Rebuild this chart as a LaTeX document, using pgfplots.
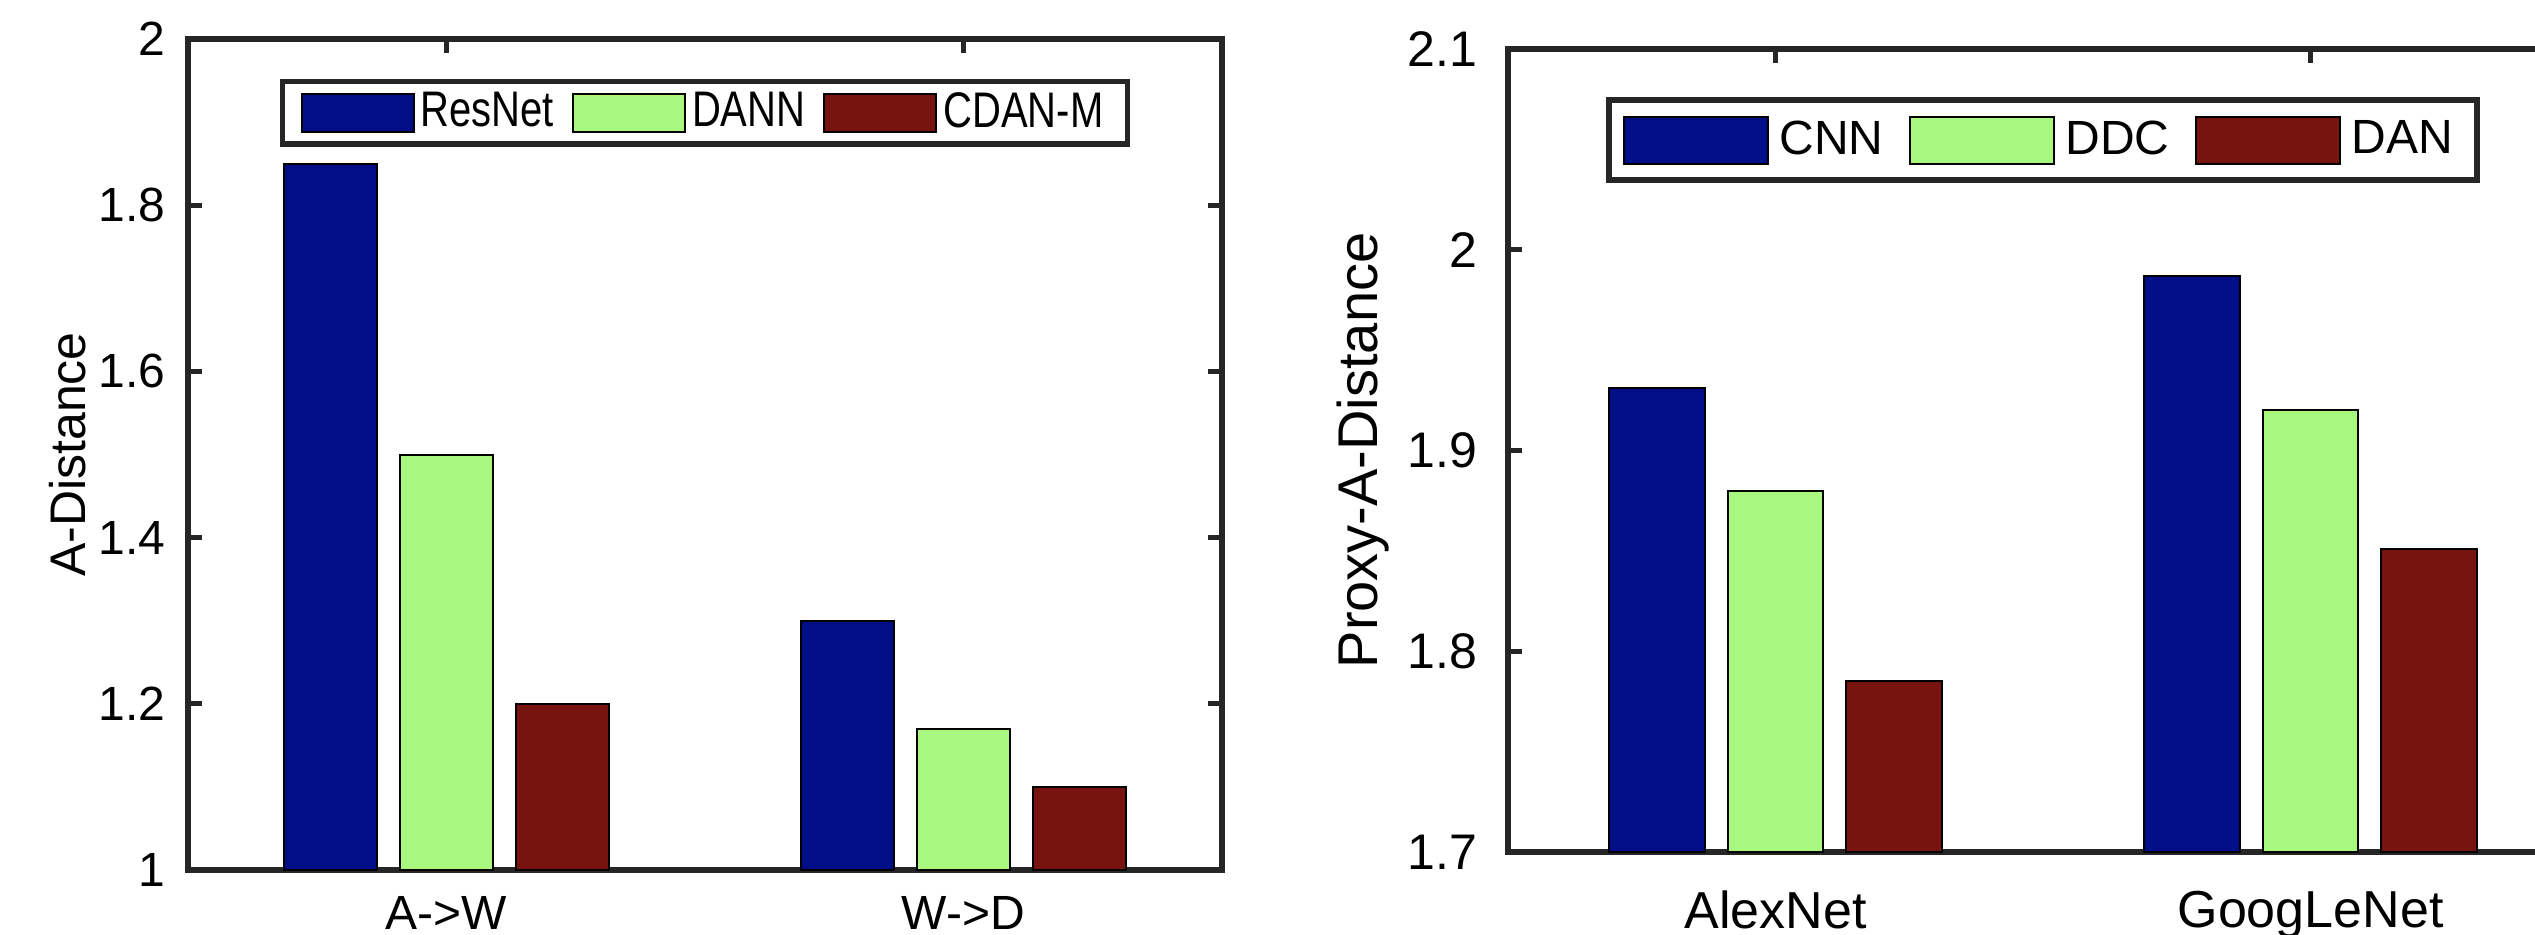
\documentclass[border=0pt]{standalone}
\usepackage{fontspec}
\setmainfont{Liberation Sans}
\usepackage{graphicx}
\usepackage{pgfplots}
\pgfplotsset{compat=1.18}
\definecolor{cblue}{RGB}{0,15,136}
\definecolor{cgreen}{RGB}{168,248,127}
\definecolor{cred}{RGB}{120,20,16}
\definecolor{axgray}{RGB}{38,38,38}
\begin{document}
\begin{tikzpicture}
\pgfplotsset{
  mybase/.style={
    scale only axis,
    enlargelimits=false,
    xmin=0.5, xmax=2.5,
    xtick={1,2},
    /pgf/number format/assume math mode=true,
    axis line style={line width=1.5pt, draw=axgray},
    tick style={line width=1.2pt, draw=axgray},
    major tick length=3.5pt,
    tick align=inside,
    clip=true,
    legend columns=-1,
  },
}
% ---------------- Left panel ----------------
\begin{axis}[
  mybase,
  at={(47pt,16pt)}, anchor=south west,
  width=258.5pt, height=207.75pt,
  ymin=1, ymax=2,
  ytick={1,1.2,1.4,1.6,1.8,2},
  xticklabels={A->W, W->D},
  yticklabel style={font=\fontsize{12}{14}\selectfont, inner sep=0pt, xshift=-5.5pt},
  xticklabel style={font=\fontsize{12}{14}\selectfont, inner sep=0pt, anchor=north, yshift=-6.5pt},
  ylabel={A-Distance},
  ylabel style={font=\fontsize{12.5}{14}\selectfont, at={(axis description cs:-0.116,0.5)}, anchor=center},
  legend image code/.code={\draw[#1, line width=0.5pt] (0pt,-4.75pt) rectangle (28pt,4.75pt);},
  legend style={at={(axis description cs:0.5,0.952)}, anchor=north,
    draw=axgray, line width=1.3pt, inner xsep=4.5pt, inner ysep=2.7pt,
    font=\fontsize{12.5}{14}\selectfont,
    nodes={inner xsep=1.5pt, inner ysep=0pt},
    /tikz/every even column/.append style={column sep=3pt}},
]
\addplot[ybar, bar width=0.179, fill=cblue, draw=black, line width=0.5pt] coordinates {(0.776,1.85) (1.776,1.30)};
\addplot[ybar, bar width=0.179, fill=cgreen, draw=black, line width=0.5pt] coordinates {(1,1.50) (2,1.17)};
\addplot[ybar, bar width=0.179, fill=cred, draw=black, line width=0.5pt] coordinates {(1.224,1.20) (2.224,1.10)};
\legend{\scalebox{0.8}[1]{ResNet}, \scalebox{0.8}[1]{DANN}, \scalebox{0.8}[1]{CDAN-M}}
\end{axis}
% ---------------- Right panel ----------------
\begin{axis}[
  mybase,
  at={(377pt,20.5pt)}, anchor=south west,
  width=267.5pt, height=200.75pt,
  ymin=1.7, ymax=2.1,
  ytick={1.7,1.8,1.9,2,2.1},
  xticklabels={AlexNet, GoogLeNet},
  yticklabel style={font=\fontsize{12.5}{14}\selectfont, inner sep=0pt, xshift=-7.5pt},
  xticklabel style={font=\fontsize{13}{15}\selectfont, inner sep=0pt, anchor=north, yshift=-9.5pt},
  ylabel={Proxy-A-Distance},
  ylabel style={font=\fontsize{14}{16}\selectfont, at={(axis description cs:-0.1355,0.5)}, anchor=center},
  legend image code/.code={\draw[#1, line width=0.5pt] (0pt,-5.875pt) rectangle (36pt,5.875pt);},
  legend style={at={(axis description cs:0.5,0.940)}, anchor=north,
    draw=axgray, line width=1.5pt, inner xsep=3.5pt, inner ysep=3.9pt,
    font=\fontsize{12}{14}\selectfont,
    nodes={inner xsep=2.5pt, inner ysep=1pt},
    /tikz/every even column/.append style={column sep=4pt}},
]
\addplot[ybar, bar width=0.179, fill=cblue, draw=black, line width=0.5pt] coordinates {(0.778,1.931) (1.778,1.987)};
\addplot[ybar, bar width=0.179, fill=cgreen, draw=black, line width=0.5pt] coordinates {(1,1.880) (2,1.920)};
\addplot[ybar, bar width=0.179, fill=cred, draw=black, line width=0.5pt] coordinates {(1.222,1.785) (2.222,1.851)};
\legend{CNN, DDC, DAN}
\end{axis}
\pgfresetboundingbox
\useasboundingbox (0pt,0pt) rectangle (633.75pt,233.5pt);
\end{tikzpicture}
\end{document}
